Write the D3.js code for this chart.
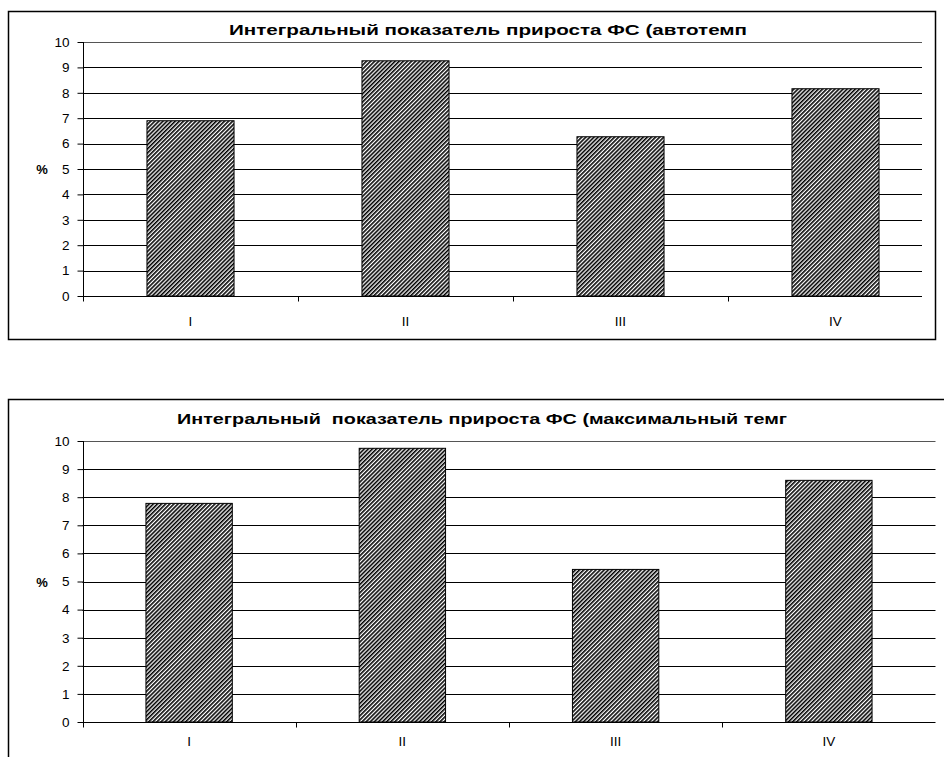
<!DOCTYPE html>
<html>
<head>
<meta charset="utf-8">
<script src="https://cdn.jsdelivr.net/npm/d3@7"></script>
<style>
  html, body { margin: 0; padding: 0; background: #fff; }
  svg { display: block; }
  text { font-family: "Liberation Sans", Arial, sans-serif; fill: #000; }
</style>
</head>
<body>
<svg id="chart" width="944" height="757"></svg>
<script>
// Quarters on the category axis
const categories = ["I", "II", "III", "IV"];
// Integral growth indicator, %, auto-tempo variant
const autoTempo = [6.9, 9.26, 6.27, 8.16];
// Integral growth indicator, %, maximal-tempo variant
const maxTempo = [7.78, 9.74, 5.43, 8.6];
// Value axis ticks
const yTicks = [0, 1, 2, 3, 4, 5, 6, 7, 8, 9, 10];
const titles = [
  "Интегральный показатель прироста ФС (автотемп",
  "Интегральный  показатель прироста ФС (максимальный темг"
];

const svg = d3.select("#chart");

// Dense diagonal hatching used by all bars
const defs = svg.append("defs");
const period = 2.9;
const pat = defs.append("pattern")
  .attr("id", "hatch")
  .attr("patternUnits", "userSpaceOnUse")
  .attr("width", period).attr("height", period)
  .attr("patternTransform", "rotate(45)");
pat.append("rect").attr("width", period).attr("height", period).attr("fill", "#fff");
pat.append("rect").attr("x", 0).attr("width", period * 0.55).attr("height", period).attr("fill", "#000");

const panels = [
  { values: autoTempo, title: titles[0],
    frame: { x: 8.5, y: 11.5, w: 927, h: 328 },
    plot: { left: 83, right: 943, top: 42, bottom: 296, gridRight: 922 },
    titleX: 488, titleY: 35, titleW: 518, labelY: 326 },
  { values: maxTempo, title: titles[1],
    frame: { x: 8.5, y: 399.5, w: 960, h: 400 },
    plot: { left: 82.5, right: 935.5, top: 441, bottom: 722, gridRight: 935.5 },
    titleX: 482, titleY: 424, titleW: 610, labelY: 746 }
];

panels.forEach(p => {
  const g = svg.append("g");

  // Outer chart frame
  g.append("rect")
    .attr("x", p.frame.x).attr("y", p.frame.y)
    .attr("width", p.frame.w).attr("height", p.frame.h)
    .attr("fill", "none").attr("stroke", "#000").attr("stroke-width", 1.5);

  const x = d3.scaleBand().domain(categories)
    .range([p.plot.left, p.plot.right]).paddingInner(0.595).paddingOuter(0.2975);
  const y = d3.scaleLinear().domain([0, 10]).range([p.plot.bottom, p.plot.top]);

  // Horizontal gridlines
  g.append("g").selectAll("line").data(yTicks.slice(1)).join("line")
    .attr("x1", p.plot.left).attr("x2", p.plot.gridRight)
    .attr("y1", d => Math.round(y(d)) + 0.5).attr("y2", d => Math.round(y(d)) + 0.5)
    .attr("stroke", d => d === 10 ? "#555" : "#000").attr("stroke-width", 1);

  // Bars
  g.append("g").selectAll("rect").data(p.values).join("rect")
    .attr("x", (d, i) => x(categories[i]))
    .attr("y", d => y(d))
    .attr("width", x.bandwidth())
    .attr("height", d => y(0) - y(d))
    .attr("fill", "url(#hatch)")
    .attr("stroke", "#000").attr("stroke-width", 1);

  // Value axis
  const yAxis = d3.axisLeft(y).tickValues(yTicks).tickSize(6).tickPadding(8)
    .tickFormat(d3.format("d"));
  const ya = g.append("g").attr("transform", `translate(${Math.round(p.plot.left) + 0.5},0)`).call(yAxis);
  ya.select(".domain").attr("stroke", "#000").attr("d", `M0,${p.plot.top}V${p.plot.bottom}`);
  ya.selectAll(".tick line").attr("stroke", "#000");
  ya.selectAll("text").style("font-size", "13.5px").attr("fill", "#000");

  // Category axis: baseline, boundary ticks and labels
  const base = Math.round(y(0)) + 0.5;
  g.append("line").attr("x1", p.plot.left).attr("x2", p.plot.gridRight)
    .attr("y1", base).attr("y2", base).attr("stroke", "#000");
  const step = x.step();
  g.append("g").selectAll("line").data(categories).join("line")
    .attr("x1", (d, i) => Math.round(p.plot.left + step * i) + 0.5)
    .attr("x2", (d, i) => Math.round(p.plot.left + step * i) + 0.5)
    .attr("y1", base).attr("y2", base + 5).attr("stroke", "#000");
  g.append("g").selectAll("text").data(categories).join("text")
    .attr("x", d => x(d) + x.bandwidth() / 2)
    .attr("y", p.labelY)
    .attr("text-anchor", "middle")
    .style("font-size", "13.5px")
    .text(d => d);

  // Axis title and chart title
  g.append("text").attr("x", 42).attr("y", (p.plot.top + p.plot.bottom) / 2 + 5)
    .attr("text-anchor", "middle").style("font-size", "13px").style("font-weight", "bold")
    .text("%");
  g.append("text").attr("x", p.titleX).attr("y", p.titleY)
    .attr("text-anchor", "middle").style("font-size", "15.5px").style("font-weight", "bold")
    .style("white-space", "pre")
    .attr("textLength", p.titleW).attr("lengthAdjust", "spacingAndGlyphs")
    .text(p.title);
});
</script>
</body>
</html>
